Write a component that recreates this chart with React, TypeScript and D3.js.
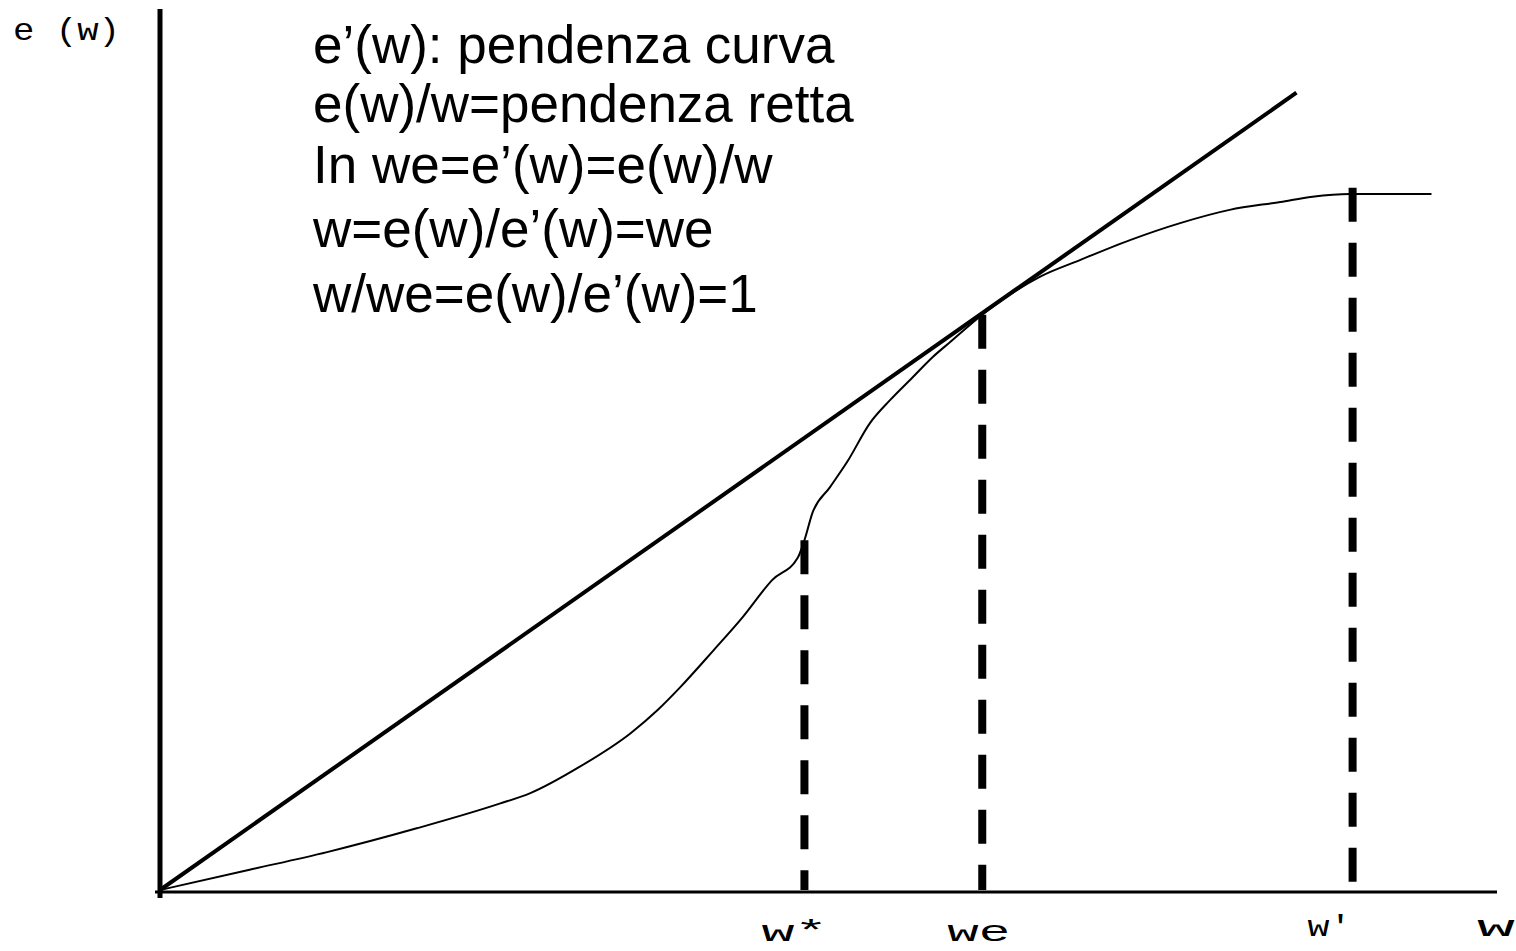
import React from "react"
import * as d3 from "d3"

// efficiency curve e(w) (w and e in arbitrary units)
const curveW = [0, 0.67, 1.25, 1.92, 2.54, 2.77, 3.14, 3.52, 3.72, 3.89, 4.14, 4.36, 4.58, 4.77, 4.82, 4.88, 5.01, 5.14, 5.31, 5.46, 5.63, 5.78, 5.91, 6.15, 6.58, 6.88, 7.26, 7.63, 8.0, 8.38, 8.62, 8.9, 9.51]
const curveE = [0, 0.23, 0.43, 0.7, 0.98, 1.1, 1.4, 1.78, 2.04, 2.3, 2.72, 3.1, 3.52, 3.77, 3.97, 4.28, 4.57, 4.86, 5.3, 5.56, 5.82, 6.05, 6.22, 6.53, 6.96, 7.15, 7.38, 7.57, 7.72, 7.81, 7.87, 7.9, 7.9]

// ray from the origin, tangent at we
const rayW = [0, 8.5]
const rayE = [0, 9.05]

// marked wages on the w axis
const markNames = ["w*", "we", "w'"]
const markW = [4.82, 6.15, 8.92]
const markTop = [3.97, 6.53, 7.97]

const notes = [
  "e\u2019(w): pendenza curva",
  "e(w)/w=pendenza retta",
  "In we=e\u2019(w)=e(w)/w",
  "w=e(w)/e\u2019(w)=we",
  "w/we=e(w)/e\u2019(w)=1",
]
const yTitle = "e (w)"
const xTitle = "w"

const width = 1516
const height = 951

export default function App() {
  const x = d3.scaleLinear().domain([0, 10]).range([160, 1497])
  const y = d3.scaleLinear().domain([0, 10]).range([890, 9])

  const curve = d3
    .line<number>()
    .x(i => x(curveW[i]))
    .y(i => y(curveE[i]))
    .curve(d3.curveMonotoneX)

  const ray = d3
    .line<number>()
    .x(i => x(rayW[i]))
    .y(i => y(rayE[i]))

  // label placement relative to each mark
  const markLabel = [
    { dx: -43, y: 941, len: 66 },
    { dx: -35, y: 941, len: 63 },
    { dx: -45, y: 936, len: 44 },
  ]
  const noteBase = [63, 122, 183, 247, 312]

  return (
    <svg
      width={width}
      height={height}
      style={{ position: "absolute", left: 0, top: 0, background: "#fff" }}
    >
      {/* axes */}
      <line x1={x(0)} x2={x(0)} y1={y(10)} y2={y(0) + 8} stroke="#000" strokeWidth={5} />
      <line x1={x(0) - 5} x2={x(10)} y1={y(0) + 2} y2={y(0) + 2} stroke="#000" strokeWidth={3} />

      {/* dashed drop lines */}
      {markW.map((w, i) => (
        <line
          key={markNames[i]}
          x1={x(w)}
          x2={x(w)}
          y1={y(markTop[i])}
          y2={y(0)}
          stroke="#000"
          strokeWidth={8}
          strokeDasharray="34 21"
        />
      ))}

      <path d={ray(d3.range(rayW.length)) ?? ""} fill="none" stroke="#000" strokeWidth={4} />
      <path d={curve(d3.range(curveW.length)) ?? ""} fill="none" stroke="#000" strokeWidth={2} />

      {/* notes */}
      <g fontFamily="'Liberation Sans', Arial, sans-serif" fontSize={53} fill="#000">
        {notes.map((t, i) => (
          <text key={i} x={313} y={noteBase[i]}>
            {t}
          </text>
        ))}
      </g>

      {/* axis labels */}
      <g fontFamily="'Liberation Mono', 'DejaVu Sans Mono', monospace" fill="#000">
        <text x={13} y={40} fontSize={32} textLength={107} lengthAdjust="spacingAndGlyphs">
          {yTitle}
        </text>
        {markNames.map((n, i) => (
          <text
            key={n}
            x={x(markW[i]) + markLabel[i].dx}
            y={markLabel[i].y}
            fontSize={30}
            textLength={markLabel[i].len}
            lengthAdjust="spacingAndGlyphs"
          >
            {n}
          </text>
        ))}
        <text x={x(10) - 20} y={936} fontSize={30} textLength={38} lengthAdjust="spacingAndGlyphs">
          {xTitle}
        </text>
      </g>
    </svg>
  )
}
